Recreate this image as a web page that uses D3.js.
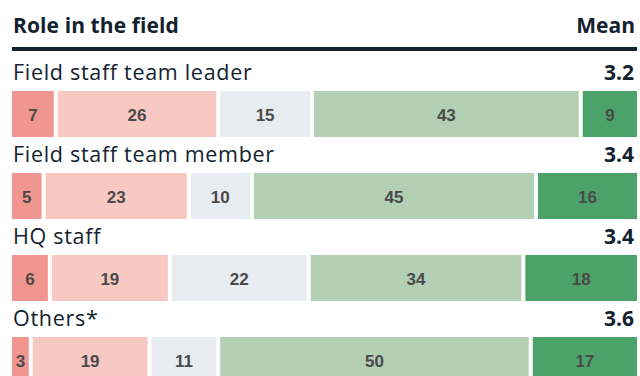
<!DOCTYPE html>
<html>
<head>
<meta charset="utf-8">
<script src="https://cdn.jsdelivr.net/npm/d3@7"></script>
<style>
  html, body { margin: 0; padding: 0; background: #fff; }
  svg { display: block; }
</style>
</head>
<body>
<svg id="chart" width="640" height="376"></svg>
<script>
// Role groups, their mean score and the share (%) answering each level
const roles = ["Field staff team leader", "Field staff team member", "HQ staff", "Others*"];
const means = ["3.2", "3.4", "3.4", "3.6"];
const level1 = [7, 5, 6, 3];
const level2 = [26, 23, 19, 19];
const level3 = [15, 10, 22, 11];
const level4 = [43, 45, 34, 50];
const level5 = [9, 16, 18, 17];
const levelColors = ["#f0968f", "#f8c8c3", "#e8ebf0", "#b3d0b4", "#4ba36a"];

const svg = d3.select("#chart");
const left = 12, right = 637;
const rowTop = 56, rowStep = 82, barOffset = 35, barH = 46, gap = 2;
const font = "'Open Sans', sans-serif";
const ink = "#13222f";

// Header
svg.append("text").attr("x", 13).attr("y", 33)
  .attr("font-family", font).attr("font-weight", 700)
  .attr("font-size", 21).attr("letter-spacing", 0.1).attr("fill", ink).text("Role in the field");
svg.append("text").attr("x", 635).attr("y", 33).attr("text-anchor", "end")
  .attr("font-family", font).attr("font-weight", 700)
  .attr("font-size", 21).attr("fill", ink).text("Mean");
svg.append("rect").attr("x", left).attr("y", 47).attr("width", right - left).attr("height", 4)
  .attr("fill", ink);

const levels = [level1, level2, level3, level4, level5];

roles.forEach((role, i) => {
  const y0 = rowTop + i * rowStep;
  const vals = levels.map(l => l[i]);
  const total = d3.sum(vals);
  const x = d3.scaleLinear().domain([0, total]).range([left, right]);

  svg.append("text").attr("x", 13).attr("y", y0 + 24)
    .attr("font-family", font).attr("font-size", 21.5).attr("letter-spacing", 0.7)
    .attr("fill", ink).text(role);
  svg.append("text").attr("x", 634).attr("y", y0 + 24).attr("text-anchor", "end")
    .attr("font-family", font).attr("font-weight", 700).attr("font-size", 21)
    .attr("fill", ink).text(means[i]);

  let cum = 0;
  const segs = vals.map((v, k) => {
    const s = { v, k, a: cum, b: cum + v };
    cum += v;
    return s;
  });

  const g = svg.append("g");
  const by = y0 + barOffset;
  const sx0 = d => d.k === 0 ? x(d.a) : x(d.a) + gap;
  const sx1 = d => d.k === 4 ? x(d.b) : x(d.b) - gap;
  g.selectAll("rect").data(segs).join("rect")
    .attr("x", sx0)
    .attr("width", d => sx1(d) - sx0(d))
    .attr("y", by).attr("height", barH)
    .attr("fill", d => levelColors[d.k]);
  g.selectAll("text").data(segs).join("text")
    .attr("x", d => (sx0(d) + sx1(d)) / 2)
    .attr("y", by + barH / 2 + 7)
    .attr("text-anchor", "middle")
    .attr("font-family", "'Liberation Sans', Arial, sans-serif").attr("font-weight", 700)
    .attr("font-size", 17).attr("fill", "#4a4a4a")
    .text(d => d.v);
});
</script>
</body>
</html>
